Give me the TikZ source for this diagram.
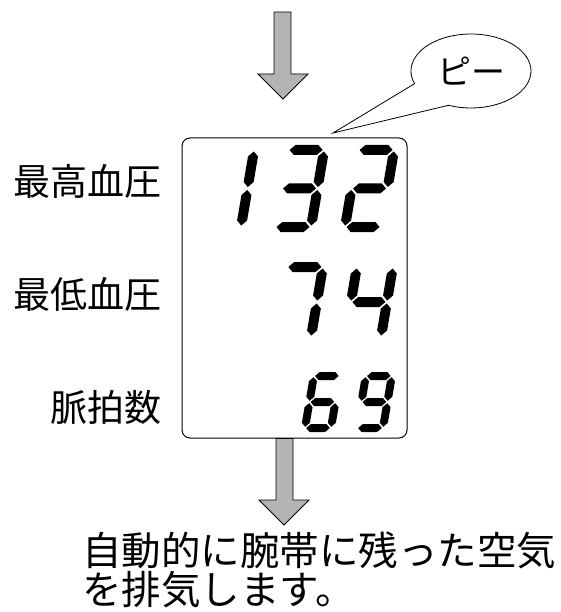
\documentclass[tikz,border=0pt]{standalone}
\usepackage{fontspec}
\newfontfamily\jp{Noto Sans CJK JP}
\definecolor{arrowgray}{HTML}{B4B4B4}
\tikzset{
  blockarrow/.style={fill=arrowgray, draw=black, line width=0.8pt, line join=miter},
  panel/.style={draw=black, line width=1pt, rounded corners=8pt, minimum width=225pt, minimum height=300pt, inner sep=0pt},
  lbl/.style={font=\jp\fontsize{37}{37}\selectfont, inner sep=0pt, anchor=east},
  lcdfill/.style={fill=black, draw=none}
}
% seven-segment pieces (local coords, uses \W \H \T \G)
\newcommand\lcdH[1]{\path[lcdfill] (\G,#1) -- (\G+\T/2,#1+\T/2) -- (\W-\G-\T/2,#1+\T/2) -- (\W-\G,#1) -- (\W-\G-\T/2,#1-\T/2) -- (\G+\T/2,#1-\T/2) -- cycle;}
\newcommand\lcdV[3]{\path[lcdfill] (#1,#2+\G) -- (#1+\T/2,#2+\G+\T/2) -- (#1+\T/2,#3-\G-\T/2) -- (#1,#3-\G) -- (#1-\T/2,#3-\G-\T/2) -- (#1-\T/2,#2+\G+\T/2) -- cycle;}
\newcommand\lcdsegA{\lcdH{\H}}
\newcommand\lcdsegB{\lcdV{\W}{\H/2}{\H}}
\newcommand\lcdsegC{\lcdV{\W}{0}{\H/2}}
\newcommand\lcdsegD{\lcdH{0}}
\newcommand\lcdsegE{\lcdV{0}{0}{\H/2}}
\newcommand\lcdsegF{\lcdV{0}{\H/2}{\H}}
\newcommand\lcdsegG{\lcdH{\H/2}}
\newcommand\lcddigit[3]{\begin{scope}[shift={(#1,#2)}, xslant=\S]\foreach \s in {#3}{\csname lcdseg\s\endcsname}\end{scope}}
\begin{document}
\begin{tikzpicture}[x=1pt, y=1pt]
\useasboundingbox (0,0) rectangle (561,-612);
% top arrow
\draw[blockarrow] (274,-12) -- (291,-12) -- (291,-74) -- (308,-74) -- (283,-99) -- (258,-74) -- (274,-74) -- cycle;
% display panel
\node[panel] (display) at (294.5,-288) {};
% bottom arrow
\draw[blockarrow] (276,-438.5) -- (293,-438.5) -- (293,-500) -- (309,-500) -- (284,-525) -- (259,-500) -- (276,-500) -- cycle;
% speech bubble
\coordinate (tip) at (333,-133);
\draw[fill=white, line width=0.8pt] (tip) -- (448.5,-105.3) arc[start angle=248, end angle=560, x radius=60, y radius=37] -- cycle;
\node[font=\jp\fontsize{34}{34}\selectfont, inner sep=0pt] (beep) at (471,-71) {ピー};
% labels
\node[lbl] (sys) at (162,-181) {最高血圧};
\node[lbl] (dia) at (162,-294) {最低血圧};
\node[lbl] (pulse) at (162,-407) {脈拍数};
% LCD digits, top row: 132
\def\W{36}\def\H{77}\def\T{10}\def\G{1.5}\def\S{0.17}
\lcddigit{205}{-227}{B,C}
\lcddigit{275}{-227}{A,B,C,D,G}
\lcddigit{345}{-227}{A,B,G,E,D}
% middle row: 74
\def\H{70}
\lcddigit{275}{-337}{A,B,C}
\lcddigit{345}{-337}{F,G,B,C}
% bottom row: 69
\def\W{26}\def\H{52}\def\T{8}\def\G{1.2}
\lcddigit{305}{-428}{A,F,G,E,C,D}
\lcddigit{357}{-428}{A,B,F,G,C,D}
% caption
\node[font=\jp\fontsize{39.5}{39}\selectfont, inner sep=0pt, anchor=west, align=left] (caption) at (82,-570) {自動的に腕帯に残った空気\\を排気します。};
\end{tikzpicture}
\end{document}
